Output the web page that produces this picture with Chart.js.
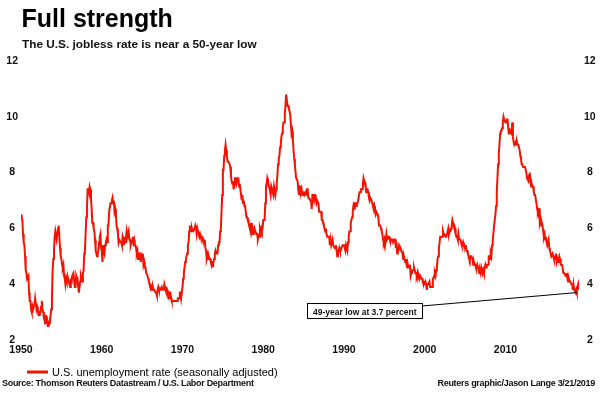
<!DOCTYPE html>
<html>
<head>
<meta charset="utf-8">
<script src="https://cdn.jsdelivr.net/npm/chart.js@4"></script>
<style>
  html, body { margin: 0; padding: 0; background: #fff; }
  #wrap { position: relative; width: 600px; height: 394px; overflow: hidden; font-family: "Liberation Sans", Arial, sans-serif; }
  canvas { position: absolute; left: 0; top: 0; }
  .t { position: absolute; white-space: nowrap; color: #000; font-weight: bold; }
  #title { left: 21.5px; top: 6px; font-size: 25px; line-height: 25px; }
  #subtitle { left: 22px; top: 38.5px; font-size: 11.8px; line-height: 11.8px; color: #111; }
  #source { left: 2px; top: 378.5px; font-size: 9px; line-height: 9px; letter-spacing: -0.3px; color: #111; }
  #credit { right: 5px; top: 378.5px; font-size: 9px; line-height: 9px; letter-spacing: -0.3px; color: #111; }
</style>
</head>
<body>
<div id="wrap">
  <canvas id="c" width="600" height="394"></canvas>
  <div class="t" id="title">Full strength</div>
  <div class="t" id="subtitle">The U.S. jobless rate is near a 50-year low</div>
  <div class="t" id="source">Source: Thomson Reuters Datastream / U.S. Labor Department</div>
  <div class="t" id="credit">Reuters graphic/Jason Lange 3/21/2019</div>
</div>
<script>
// Monthly U.S. unemployment rate (seasonally adjusted), percent, by decade starting in January
const rate1950s = [
6.5,6.4,6.3,5.8,5.5,5.4,5.0,4.5,4.4,4.2,4.2,4.3,
3.7,3.4,3.4,3.1,3.0,3.2,3.1,3.1,3.3,3.5,3.5,3.1,
3.2,3.1,2.9,2.9,3.0,3.0,3.2,3.4,3.1,3.0,2.8,2.7,
2.9,2.6,2.6,2.7,2.5,2.5,2.6,2.7,2.9,3.1,3.5,4.5,
4.9,5.2,5.7,5.9,5.9,5.6,5.8,6.0,6.1,5.7,5.3,5.0,
4.9,4.7,4.6,4.7,4.3,4.2,4.0,4.2,4.1,4.3,4.2,4.2,
4.0,3.9,4.2,4.0,4.3,4.3,4.4,4.1,3.9,3.9,4.3,4.2,
4.2,3.9,3.7,3.9,4.1,4.3,4.2,4.1,4.4,4.5,5.1,5.2,
5.8,6.4,6.7,7.4,7.4,7.3,7.5,7.4,7.1,6.7,6.2,6.2,
6.0,5.9,5.6,5.2,5.1,5.0,5.1,5.2,5.5,5.7,5.8,5.3];
const rate1960s = [
5.2,4.8,5.4,5.2,5.1,5.4,5.5,5.6,5.5,6.1,6.1,6.6,
6.6,6.9,6.9,7.0,7.1,6.9,7.0,6.6,6.7,6.5,6.1,6.0,
5.8,5.5,5.6,5.6,5.5,5.5,5.4,5.7,5.6,5.4,5.7,5.5,
5.7,5.9,5.7,5.7,5.9,5.6,5.6,5.4,5.5,5.5,5.7,5.5,
5.6,5.4,5.4,5.3,5.1,5.2,4.9,5.0,5.1,5.1,4.8,5.0,
4.9,5.1,4.7,4.8,4.6,4.6,4.4,4.4,4.3,4.2,4.1,4.0,
4.0,3.8,3.8,3.8,3.9,3.8,3.8,3.8,3.7,3.7,3.6,3.8,
3.9,3.8,3.8,3.8,3.8,3.9,3.8,3.8,3.8,4.0,3.9,3.8,
3.7,3.8,3.7,3.5,3.5,3.7,3.7,3.5,3.4,3.4,3.4,3.4,
3.4,3.4,3.4,3.4,3.4,3.5,3.5,3.5,3.7,3.7,3.5,3.5];
const rate1970s = [
3.9,4.2,4.4,4.6,4.8,4.9,5.0,5.1,5.4,5.5,5.9,6.1,
5.9,5.9,6.0,5.9,5.9,5.9,6.0,6.1,6.0,5.8,6.0,6.0,
5.8,5.7,5.8,5.7,5.7,5.7,5.6,5.6,5.5,5.6,5.3,5.2,
4.9,5.0,4.9,5.0,4.9,4.9,4.8,4.8,4.8,4.6,4.8,4.9,
5.1,5.2,5.1,5.1,5.1,5.4,5.5,5.5,5.9,6.0,6.6,7.2,
8.1,8.1,8.6,8.8,9.0,8.8,8.6,8.4,8.4,8.4,8.3,8.2,
7.9,7.7,7.6,7.7,7.4,7.6,7.8,7.8,7.6,7.7,7.8,7.8,
7.5,7.6,7.4,7.2,7.0,7.2,6.9,7.0,6.8,6.8,6.8,6.4,
6.4,6.3,6.3,6.1,6.0,5.9,6.2,5.9,6.0,5.8,5.9,6.0,
5.9,5.9,5.8,5.8,5.6,5.7,5.7,6.0,5.9,6.0,5.9,6.0];
const rate1980s = [
6.3,6.3,6.3,6.9,7.5,7.6,7.8,7.7,7.5,7.5,7.5,7.2,
7.5,7.4,7.4,7.2,7.5,7.5,7.2,7.4,7.6,7.9,8.3,8.5,
8.6,8.9,9.0,9.3,9.4,9.6,9.8,9.8,10.1,10.4,10.8,10.8,
10.4,10.4,10.3,10.2,10.1,10.1,9.4,9.5,9.2,8.8,8.5,8.3,
8.0,7.8,7.8,7.7,7.4,7.2,7.5,7.5,7.3,7.4,7.2,7.3,
7.3,7.2,7.2,7.3,7.2,7.4,7.4,7.1,7.1,7.1,7.0,7.0,
6.7,7.2,7.2,7.1,7.2,7.2,7.0,6.9,7.0,7.0,6.9,6.6,
6.6,6.6,6.6,6.3,6.3,6.2,6.1,6.0,5.9,6.0,5.8,5.7,
5.7,5.7,5.7,5.4,5.6,5.4,5.4,5.6,5.4,5.4,5.3,5.3,
5.4,5.2,5.0,5.2,5.2,5.3,5.2,5.2,5.3,5.3,5.4,5.4];
const rate1990s = [
5.4,5.3,5.2,5.4,5.4,5.2,5.5,5.7,5.9,5.9,6.2,6.3,
6.4,6.6,6.8,6.7,6.9,6.9,6.8,6.9,6.9,7.0,7.0,7.3,
7.3,7.4,7.4,7.4,7.6,7.8,7.7,7.6,7.6,7.3,7.4,7.4,
7.3,7.1,7.0,7.1,7.1,7.0,6.9,6.8,6.7,6.8,6.6,6.5,
6.6,6.6,6.5,6.4,6.1,6.1,6.1,6.0,5.9,5.8,5.6,5.5,
5.6,5.4,5.4,5.8,5.6,5.6,5.7,5.7,5.6,5.5,5.6,5.6,
5.6,5.5,5.5,5.6,5.6,5.3,5.5,5.1,5.2,5.2,5.4,5.4,
5.3,5.2,5.2,5.1,4.9,5.0,4.9,4.8,4.9,4.7,4.6,4.7,
4.6,4.6,4.7,4.3,4.4,4.5,4.5,4.5,4.6,4.5,4.4,4.4,
4.3,4.4,4.2,4.3,4.2,4.3,4.3,4.2,4.2,4.1,4.1,4.0];
const rate2000s = [
4.0,4.1,4.0,3.8,4.0,4.0,4.0,4.1,3.9,3.9,3.9,3.9,
4.2,4.2,4.3,4.4,4.3,4.5,4.6,4.9,5.0,5.3,5.5,5.7,
5.7,5.7,5.7,5.9,5.8,5.8,5.8,5.7,5.7,5.7,5.9,6.0,
5.8,5.9,5.9,6.0,6.1,6.3,6.2,6.1,6.1,6.0,5.8,5.7,
5.7,5.6,5.8,5.6,5.6,5.6,5.5,5.4,5.4,5.5,5.4,5.4,
5.3,5.4,5.2,5.2,5.1,5.0,5.0,4.9,5.0,5.0,5.0,4.9,
4.7,4.8,4.7,4.7,4.6,4.6,4.7,4.7,4.5,4.4,4.5,4.4,
4.6,4.5,4.4,4.5,4.4,4.6,4.7,4.6,4.7,4.7,4.7,5.0,
5.0,4.9,5.1,5.0,5.4,5.6,5.8,6.1,6.1,6.5,6.8,7.3,
7.8,8.3,8.7,9.0,9.4,9.5,9.5,9.6,9.8,10.0,9.9,9.9];
const rate2010s = [
9.8,9.8,9.9,9.9,9.6,9.4,9.4,9.5,9.5,9.4,9.8,9.3,
9.1,9.0,9.0,9.1,9.0,9.1,9.0,9.0,9.0,8.8,8.6,8.5,
8.3,8.3,8.2,8.2,8.2,8.2,8.2,8.0,7.8,7.8,7.7,7.9,
8.0,7.7,7.5,7.6,7.5,7.5,7.3,7.2,7.2,7.2,6.9,6.7,
6.6,6.7,6.7,6.2,6.3,6.1,6.2,6.1,5.9,5.7,5.8,5.6,
5.7,5.5,5.4,5.4,5.6,5.3,5.2,5.1,5.0,5.0,5.1,5.0,
4.9,4.9,5.0,5.1,4.8,4.9,4.8,4.9,5.0,4.9,4.7,4.7,
4.7,4.7,4.4,4.4,4.4,4.3,4.3,4.4,4.2,4.1,4.2,4.1,
4.1,4.1,4.0,4.0,3.8,4.0,3.8,3.8,3.7,3.8,3.7,3.9,
4.0,3.8];

const decadeStarts = [1950, 1960, 1970, 1980, 1990, 2000, 2010];
const decadeSeries = [rate1950s, rate1960s, rate1970s, rate1980s, rate1990s, rate2000s, rate2010s];
const yTicks = [2, 4, 6, 8, 10, 12];
const xTicks = [1950, 1960, 1970, 1980, 1990, 2000, 2010];
const seriesLabel = 'U.S. unemployment rate (seasonally adjusted)';
const annotationText = '49-year low at 3.7 percent';
const annotationPoint = { year: 2018, month: 10, value: 3.7 }; // November 2018

const points = [];
decadeSeries.forEach((arr, d) => {
  arr.forEach((v, i) => points.push({ x: decadeStarts[d] + i / 12, y: v }));
});

const RED = '#f41200';
const FONT = '"Liberation Sans", Arial, sans-serif';

const extras = {
  id: 'extras',
  afterDraw(chart) {
    const ctx = chart.ctx;
    ctx.save();
    // legend
    ctx.strokeStyle = RED;
    ctx.lineWidth = 3;
    ctx.beginPath();
    ctx.moveTo(27, 372);
    ctx.lineTo(48, 372);
    ctx.stroke();
    ctx.fillStyle = '#000';
    ctx.font = '11px ' + FONT;
    ctx.textBaseline = 'alphabetic';
    ctx.textAlign = 'left';
    ctx.fillText(seriesLabel, 52, 376);
    // annotation
    const px = chart.scales.x.getPixelForValue(annotationPoint.year + annotationPoint.month / 12);
    const py = chart.scales.y.getPixelForValue(annotationPoint.value);
    ctx.strokeStyle = '#000';
    ctx.lineWidth = 1;
    ctx.beginPath();
    ctx.moveTo(422, 306);
    ctx.lineTo(px, py);
    ctx.stroke();
    ctx.fillStyle = '#fff';
    ctx.fillRect(307.5, 303.5, 115, 15);
    ctx.strokeRect(307.5, 303.5, 115, 15);
    ctx.fillStyle = '#111';
    ctx.font = 'bold 8.5px ' + FONT;
    ctx.fillText(annotationText, 313, 314.5);
    ctx.restore();
  }
};

const tickFont = { family: FONT, size: 10.5, weight: 'bold' };
const noGrid = { display: false, drawTicks: false, tickLength: 0 };

new Chart(document.getElementById('c'), {
  type: 'line',
  data: {
    datasets: [{
      label: seriesLabel,
      data: points,
      borderColor: RED,
      borderWidth: 2,
      pointRadius: 0,
      tension: 0,
      fill: false
    }]
  },
  options: {
    responsive: false,
    animation: false,
    devicePixelRatio: 1,
    layout: { padding: { top: 61, left: 0, right: 0, bottom: 0 } },
    plugins: { legend: { display: false }, title: { display: false }, tooltip: { enabled: false } },
    scales: {
      x: {
        type: 'linear',
        min: 1950,
        max: 2019.1,
        grid: noGrid,
        border: { display: false },
        afterFit(s) { s.height = 54; },
        afterBuildTicks(s) { s.ticks = xTicks.map(v => ({ value: v })); },
        ticks: {
          autoSkip: false, maxRotation: 0, padding: 4,
          color: '#111', font: tickFont,
          callback: v => String(v)
        }
      },
      y: {
        position: 'left',
        min: 2, max: 12,
        grid: noGrid,
        border: { display: false },
        afterFit(s) { s.width = 21; },
        afterBuildTicks(s) { s.ticks = yTicks.map(v => ({ value: v })); },
        ticks: { crossAlign: 'center', padding: 3, color: '#111', font: tickFont }
      },
      y2: {
        position: 'right',
        min: 2, max: 12,
        display: true,
        grid: noGrid,
        border: { display: false },
        afterFit(s) { s.width = 21; },
        afterBuildTicks(s) { s.ticks = yTicks.map(v => ({ value: v })); },
        ticks: { crossAlign: 'center', padding: 5, color: '#111', font: tickFont }
      }
    }
  },
  plugins: [extras]
});
</script>
</body>
</html>
